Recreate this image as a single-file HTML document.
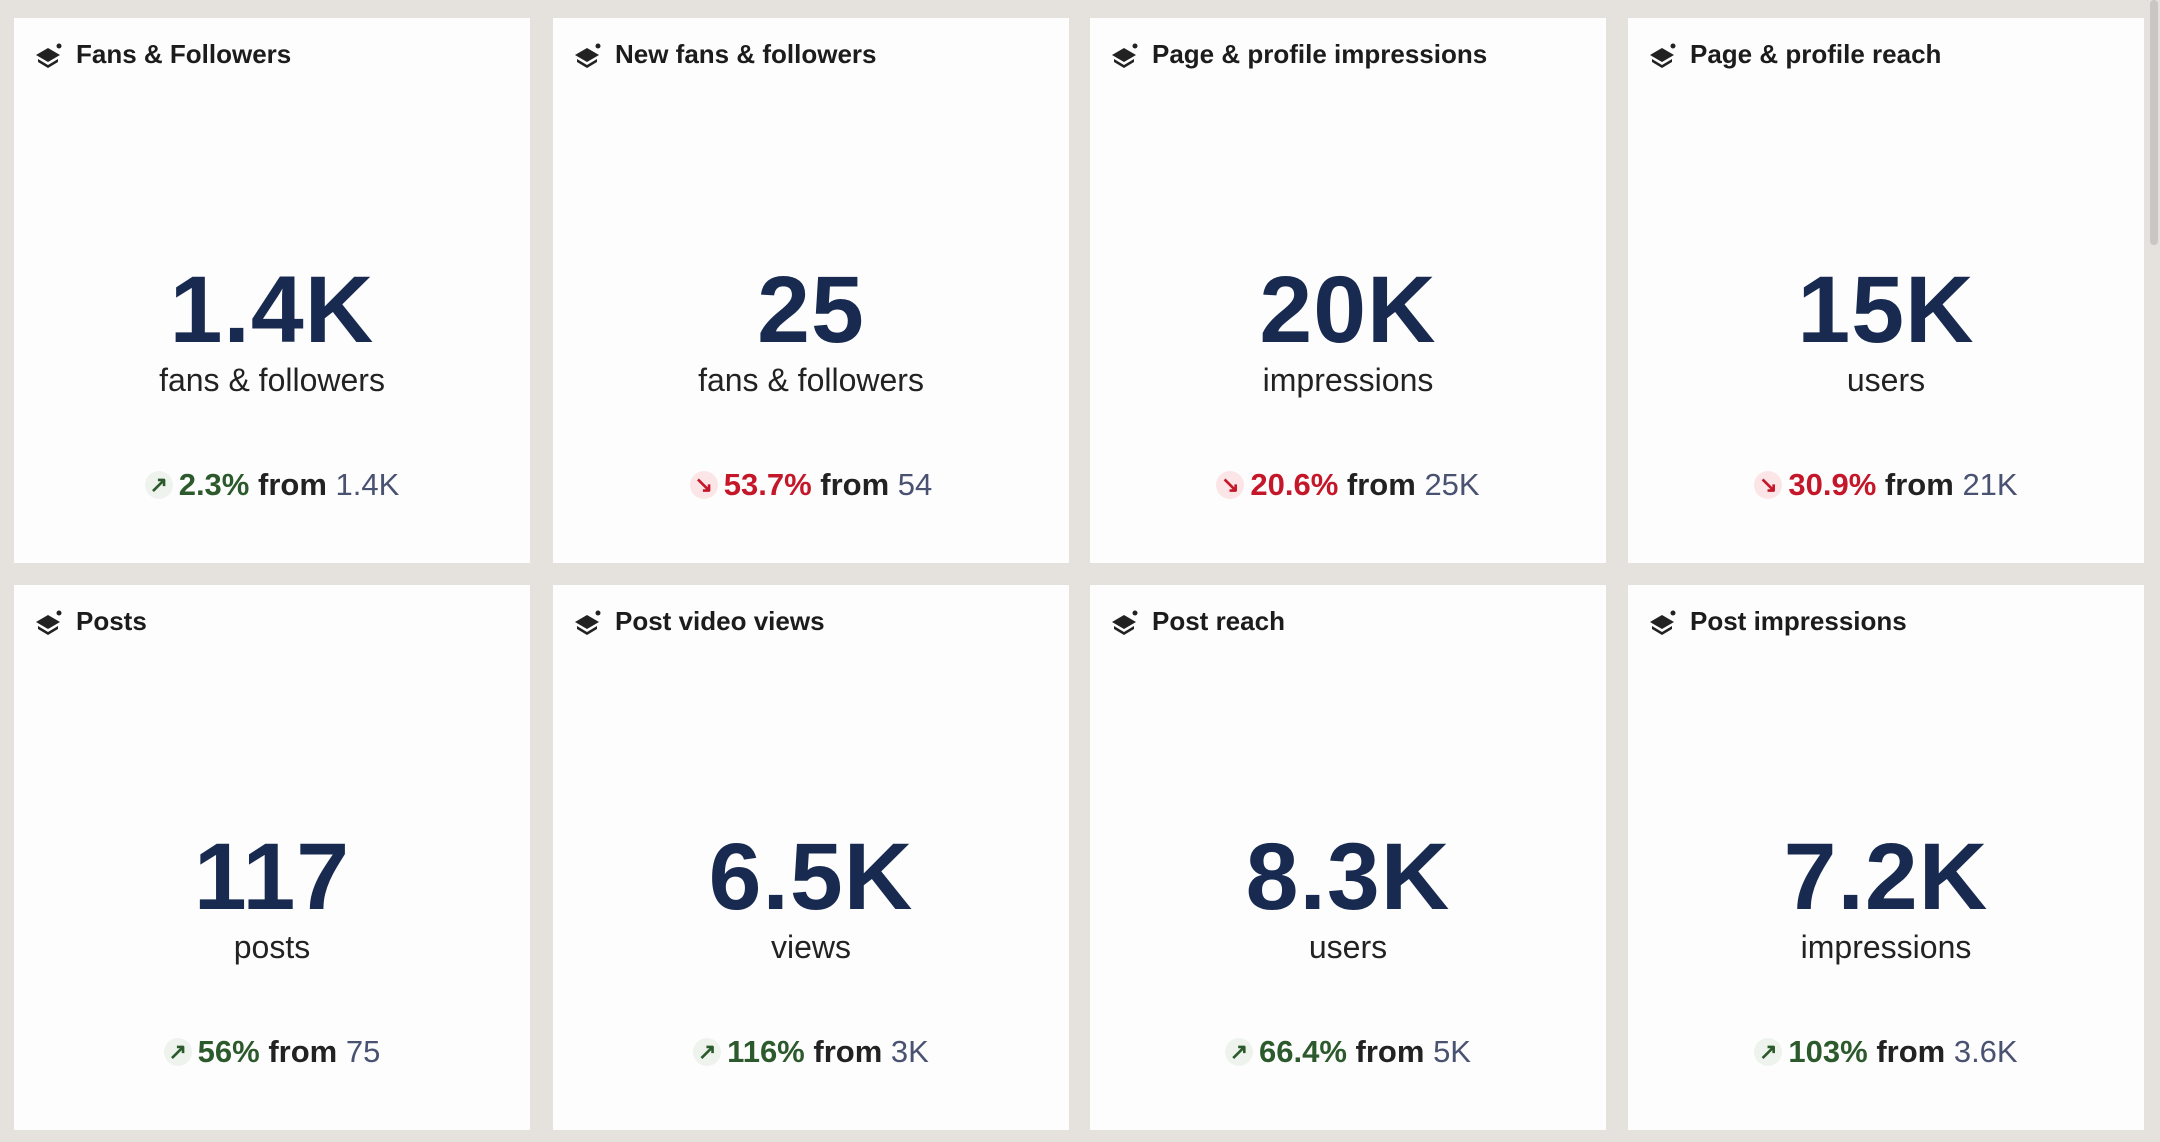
<!DOCTYPE html>
<html><head><meta charset="utf-8"><style>
html,body{margin:0;padding:0;}
body{width:2160px;height:1142px;background:#e5e1dc;position:relative;overflow:hidden;font-family:"Liberation Sans",sans-serif;}
.card{position:absolute;width:516px;height:545px;background:#fdfdfd;}
.t{position:absolute;left:62px;top:21px;font-size:26px;font-weight:bold;color:#1c1c1c;white-space:nowrap;}
.ic{position:absolute;left:20px;top:23px;}
.n{position:absolute;left:0;right:0;top:245px;text-align:center;font-size:95px;font-weight:bold;color:#182a50;line-height:1;letter-spacing:1px;}
.s{position:absolute;left:0;right:0;top:344px;text-align:center;font-size:32px;color:#222;}
.c{position:absolute;left:0;right:0;top:449px;text-align:center;font-size:31px;white-space:nowrap;}
.c .a{display:inline-block;width:28px;height:28px;border-radius:50%;background:#eef3ee;font-size:22px;line-height:28px;vertical-align:3px;margin-right:6px;font-weight:bold;}
.g{color:#2c5a2c;font-weight:bold;}
.r{color:#c4182a;font-weight:bold;}
.ra{background:#fbe5e7 !important;color:#c4182a;}
.f{color:#222;font-weight:bold;}
.v{color:#4a5272;}
.sb{position:absolute;left:2150px;top:0;width:8px;height:245px;background:#c9c6c3;border-radius:4px;}
</style></head><body>
<div class="sb"></div>

<div class="card" style="left:14px;top:18px">
<svg class="ic" width="30" height="28" viewBox="0 0 30 28"><path d="M2 14 L14 7 L26 14 L14 21 Z" fill="#222"/><path d="M4 18 L14 24 L24 18 L24 21 L14 27 L4 21Z" fill="#222"/><circle cx="25" cy="5" r="2.5" fill="#222"/></svg>
<div class="t">Fans &amp; Followers</div>
<div class="n">1.4K</div><div class="s">fans &amp; followers</div>
<div class="c"><span class="a g">↗</span><span class="g">2.3%</span> <span class="f">from</span> <span class="v">1.4K</span></div></div>

<div class="card" style="left:553px;top:18px">
<svg class="ic" width="30" height="28" viewBox="0 0 30 28"><path d="M2 14 L14 7 L26 14 L14 21 Z" fill="#222"/><path d="M4 18 L14 24 L24 18 L24 21 L14 27 L4 21Z" fill="#222"/><circle cx="25" cy="5" r="2.5" fill="#222"/></svg>
<div class="t">New fans &amp; followers</div>
<div class="n">25</div><div class="s">fans &amp; followers</div>
<div class="c"><span class="a ra">↘</span><span class="r">53.7%</span> <span class="f">from</span> <span class="v">54</span></div></div>

<div class="card" style="left:1090px;top:18px">
<svg class="ic" width="30" height="28" viewBox="0 0 30 28"><path d="M2 14 L14 7 L26 14 L14 21 Z" fill="#222"/><path d="M4 18 L14 24 L24 18 L24 21 L14 27 L4 21Z" fill="#222"/><circle cx="25" cy="5" r="2.5" fill="#222"/></svg>
<div class="t">Page &amp; profile impressions</div>
<div class="n">20K</div><div class="s">impressions</div>
<div class="c"><span class="a ra">↘</span><span class="r">20.6%</span> <span class="f">from</span> <span class="v">25K</span></div></div>

<div class="card" style="left:1628px;top:18px">
<svg class="ic" width="30" height="28" viewBox="0 0 30 28"><path d="M2 14 L14 7 L26 14 L14 21 Z" fill="#222"/><path d="M4 18 L14 24 L24 18 L24 21 L14 27 L4 21Z" fill="#222"/><circle cx="25" cy="5" r="2.5" fill="#222"/></svg>
<div class="t">Page &amp; profile reach</div>
<div class="n">15K</div><div class="s">users</div>
<div class="c"><span class="a ra">↘</span><span class="r">30.9%</span> <span class="f">from</span> <span class="v">21K</span></div></div>

<div class="card" style="left:14px;top:585px">
<svg class="ic" width="30" height="28" viewBox="0 0 30 28"><path d="M2 14 L14 7 L26 14 L14 21 Z" fill="#222"/><path d="M4 18 L14 24 L24 18 L24 21 L14 27 L4 21Z" fill="#222"/><circle cx="25" cy="5" r="2.5" fill="#222"/></svg>
<div class="t">Posts</div>
<div class="n">117</div><div class="s">posts</div>
<div class="c"><span class="a g">↗</span><span class="g">56%</span> <span class="f">from</span> <span class="v">75</span></div></div>

<div class="card" style="left:553px;top:585px">
<svg class="ic" width="30" height="28" viewBox="0 0 30 28"><path d="M2 14 L14 7 L26 14 L14 21 Z" fill="#222"/><path d="M4 18 L14 24 L24 18 L24 21 L14 27 L4 21Z" fill="#222"/><circle cx="25" cy="5" r="2.5" fill="#222"/></svg>
<div class="t">Post video views</div>
<div class="n">6.5K</div><div class="s">views</div>
<div class="c"><span class="a g">↗</span><span class="g">116%</span> <span class="f">from</span> <span class="v">3K</span></div></div>

<div class="card" style="left:1090px;top:585px">
<svg class="ic" width="30" height="28" viewBox="0 0 30 28"><path d="M2 14 L14 7 L26 14 L14 21 Z" fill="#222"/><path d="M4 18 L14 24 L24 18 L24 21 L14 27 L4 21Z" fill="#222"/><circle cx="25" cy="5" r="2.5" fill="#222"/></svg>
<div class="t">Post reach</div>
<div class="n">8.3K</div><div class="s">users</div>
<div class="c"><span class="a g">↗</span><span class="g">66.4%</span> <span class="f">from</span> <span class="v">5K</span></div></div>

<div class="card" style="left:1628px;top:585px">
<svg class="ic" width="30" height="28" viewBox="0 0 30 28"><path d="M2 14 L14 7 L26 14 L14 21 Z" fill="#222"/><path d="M4 18 L14 24 L24 18 L24 21 L14 27 L4 21Z" fill="#222"/><circle cx="25" cy="5" r="2.5" fill="#222"/></svg>
<div class="t">Post impressions</div>
<div class="n">7.2K</div><div class="s">impressions</div>
<div class="c"><span class="a g">↗</span><span class="g">103%</span> <span class="f">from</span> <span class="v">3.6K</span></div></div>

</body></html>
